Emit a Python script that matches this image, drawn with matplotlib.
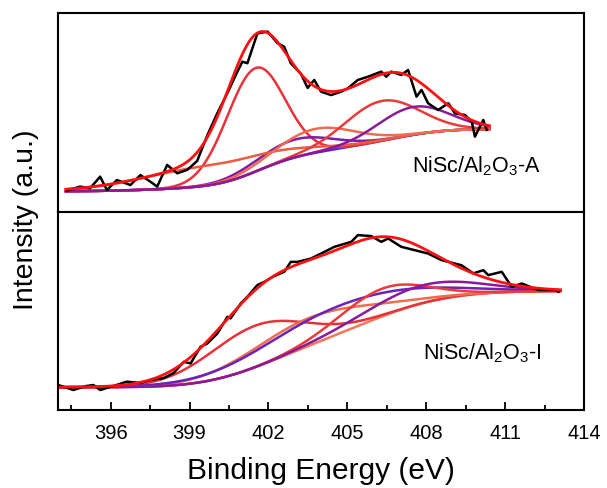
import numpy as np
import matplotlib.pyplot as plt
from matplotlib.ticker import FixedLocator, MultipleLocator

plt.rcParams['font.family'] = ['Liberation Sans', 'DejaVu Sans']
plt.rcParams['mathtext.fontset'] = 'custom'
plt.rcParams['mathtext.rm'] = 'Liberation Sans'
plt.rcParams['mathtext.it'] = 'Liberation Sans:italic'

# measured N 1s spectrum, NiSc/Al2O3-A
be_a = [394.33, 394.84, 395.22, 395.60, 395.86, 396.24, 396.75, 397.13, 397.51, 397.77,
        398.15, 398.53, 398.91, 399.29, 399.68, 400.06, 400.44, 400.82, 401.01, 401.20,
        401.58, 401.97, 402.35, 402.60, 402.85, 403.24, 403.49, 403.74, 404.00, 404.38,
        404.76, 405.02, 405.40, 405.78, 406.29, 406.48, 406.67, 407.05, 407.31, 407.63,
        407.82, 408.07, 408.45, 408.84, 409.09, 409.47, 409.73, 409.85, 410.17, 410.30]
counts_a = [10.6, 12.6, 11.8, 17.6, 10.9, 15.9, 13.4, 18.4, 15.1, 12.6,
            23.5, 19.3, 21.0, 25.5, 38.5, 49.6, 59.6, 70.4, 75.4, 74.6,
            89.6, 90.5, 84.6, 82.9, 74.6, 69.2, 62.2, 66.2, 60.3, 58.6,
            60.3, 62.0, 66.2, 67.8, 70.4, 67.8, 70.4, 68.7, 71.2, 57.8,
            61.2, 54.5, 51.1, 54.5, 49.4, 48.6, 45.2, 37.7, 46.1, 41.1]

# measured N 1s spectrum, NiSc/Al2O3-I
be_i = [394.01, 394.58, 395.07, 395.35, 395.60, 396.10, 396.62, 397.13, 397.51, 398.01,
        398.39, 398.78, 399.04, 399.42, 399.68, 400.06, 400.44, 400.56, 400.95, 401.20,
        401.58, 401.84, 402.21, 402.60, 402.85, 403.11, 403.62, 404.00, 404.51, 405.15,
        405.40, 405.91, 406.29, 406.55, 407.05, 407.56, 408.07, 408.58, 409.34, 409.79,
        410.17, 410.36, 410.87, 411.25, 411.63, 412.27, 412.90, 413.03]
counts_i = [12.6, 10.1, 12.1, 12.6, 10.1, 12.1, 14.3, 13.6, 15.1, 16.1,
            18.6, 24.3, 23.5, 31.9, 33.6, 38.6, 47.0, 46.2, 53.8, 57.1,
            63.0, 64.6, 67.5, 69.7, 74.7, 74.7, 76.4, 78.9, 82.3, 84.8,
            88.2, 87.7, 84.8, 86.5, 82.3, 80.6, 78.9, 75.6, 73.0, 68.9,
            70.5, 68.0, 69.7, 62.1, 63.8, 60.5, 60.5, 59.6]

# fitted components: centre (eV), height above background, FWHM (eV)
centers_a = [401.5, 403.0, 399.8, 403.8, 406.3, 407.5]
heights_a = [52, 9, 10, 12, 20, 14]
fwhm_a = [2.6, 3.4, 6.0, 3.5, 3.3, 3.2]
colors_a = ['#e8323a', '#7f1ca8', '#ec5a40', '#ee6c50', '#ea3a3a', '#8a1a9a']
bg_a = (10.3, 41.5)
span_a = (394.3, 410.4)

centers_i = [401.5, 403.5, 404.6, 406.3, 407.8]
heights_i = [21, 14, 14, 14, 9]
fwhm_i = [4.4, 5.4, 7.0, 3.8, 5.0]
colors_i = ['#e8323a', '#ee6c50', '#6a22b8', '#ea3a3a', '#8a1a9a']
bg_i = (11.5, 60.0)
span_i = (394.0, 413.1)

BG_A_COLOR = '#5a28c8'
BG_I_COLOR = '#f07a58'


def fit_curves(span, centers, heights, fwhm, bg_ends):
    x = np.linspace(span[0], span[1], 500)
    peaks = [h * np.exp(-4 * np.log(2) * (x - c) ** 2 / w ** 2)
             for c, h, w in zip(centers, heights, fwhm)]
    total = np.sum(peaks, axis=0)
    # Shirley-type background: follows the cumulative peak area
    area = np.concatenate([[0], np.cumsum((total[1:] + total[:-1]) / 2 * np.diff(x))])
    lo, hi = bg_ends
    bg = lo + (hi - lo) * area / area[-1]
    return x, bg, peaks


def draw_panel(ax, be, counts, span, centers, heights, fwhm, colors, bg_ends, bg_color):
    x, bg, peaks = fit_curves(span, centers, heights, fwhm, bg_ends)
    ax.plot(x, bg, color=bg_color, lw=1.8)
    for p, col in zip(peaks, colors):
        ax.plot(x, bg + p, color=col, lw=1.8)
    ax.plot(be, counts, color='black', lw=1.8)
    ax.plot(x, bg + np.sum(peaks, axis=0), color='#ff1010', lw=2.0)


fig = plt.figure(figsize=(6.07, 4.88), dpi=100)
ax_a = fig.add_axes([0.0956, 0.5662, 0.8666, 0.4078])
ax_i = fig.add_axes([0.0956, 0.1598, 0.8666, 0.4064])

draw_panel(ax_a, be_a, counts_a, span_a, centers_a, heights_a, fwhm_a, colors_a, bg_a, BG_A_COLOR)
draw_panel(ax_i, be_i, counts_i, span_i, centers_i, heights_i, fwhm_i, colors_i, bg_i, BG_I_COLOR)

for ax in (ax_a, ax_i):
    ax.set_xlim(394, 414)
    ax.set_ylim(0, 100)
    ax.set_yticks([])
    for s in ax.spines.values():
        s.set_linewidth(1.5)

ax_a.set_xticks([])
ax_i.xaxis.set_major_locator(FixedLocator(np.arange(396, 415, 3)))
ax_i.xaxis.set_minor_locator(MultipleLocator(1.5))
ax_i.tick_params(axis='x', which='major', direction='in', length=6, width=1.3,
                 labelsize=14.5, pad=10)
ax_i.tick_params(axis='x', which='minor', direction='in', length=3.5, width=1.3)

ax_a.text(0.673, 0.196, r'NiSc/Al$_2$O$_3$-A', transform=ax_a.transAxes,
          fontsize=15.5, va='baseline')
ax_i.text(0.694, 0.256, r'NiSc/Al$_2$O$_3$-I', transform=ax_i.transAxes,
          fontsize=15.5, va='baseline')

fig.text(0.528, 0.019, 'Binding Energy (eV)', ha='center', va='baseline', fontsize=21.5)
fig.text(0.043, 0.549, 'Intensity (a.u.)', ha='center', va='center', rotation=90, fontsize=20.5)

fig.savefig('out.png', dpi=100)
